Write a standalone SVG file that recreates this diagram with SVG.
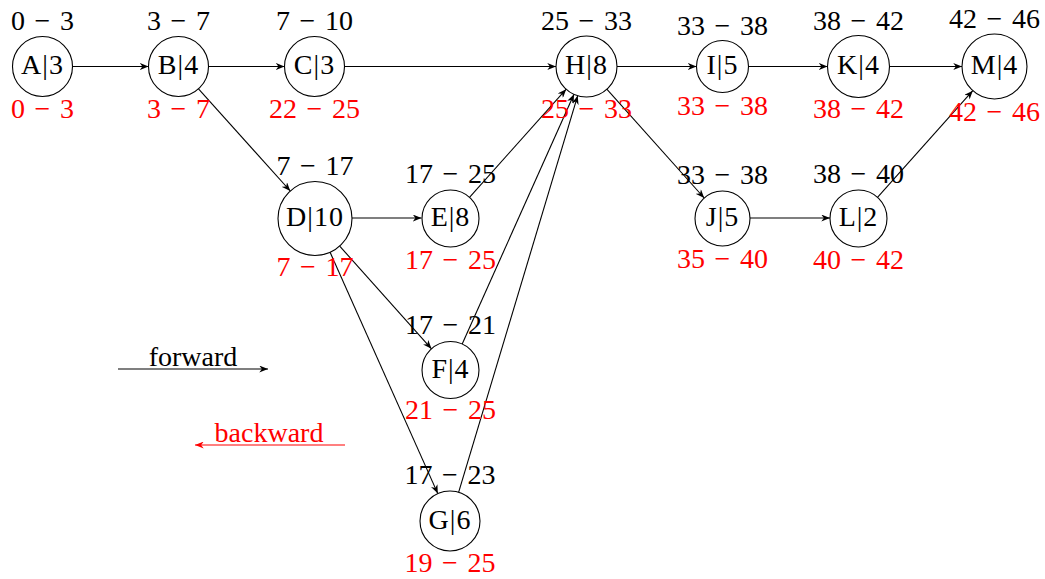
<svg xmlns="http://www.w3.org/2000/svg" width="1045" height="579" viewBox="0 0 1045 579">
<style>
text{font-family:"Liberation Serif","Times New Roman",serif;font-size:28px;text-anchor:middle}
.nt{fill:#000;letter-spacing:1px}
.es{fill:#000;word-spacing:2.5px}
.ls{fill:#ff0000;word-spacing:2.5px}
circle{fill:#fff;stroke:#000;stroke-width:1.1}
.e{stroke:#000;stroke-width:1.1;fill:none;marker-end:url(#ah)}
</style>
<defs>
<marker id="ah" markerUnits="userSpaceOnUse" viewBox="0 0 10 8" markerWidth="9" markerHeight="7" refX="10" refY="4" orient="auto"><path d="M0,0 L10,4 L0,8 L3,4 z" fill="#000"/></marker>
<marker id="ahr" markerUnits="userSpaceOnUse" viewBox="0 0 10 8" markerWidth="9" markerHeight="7" refX="10" refY="4" orient="auto"><path d="M0,0 L10,4 L0,8 L3,4 z" fill="#ff0000"/></marker>
</defs>
<g id="connectors">
<line class="e" x1="72.5" y1="66.5" x2="148.5" y2="66.5"/>
<line class="e" x1="208.5" y1="66.5" x2="284.5" y2="66.5"/>
<line class="e" x1="344.5" y1="66.5" x2="556" y2="66.5"/>
<line class="e" x1="617" y1="66.5" x2="696.5" y2="66.5"/>
<line class="e" x1="748.5" y1="66.5" x2="827.5" y2="66.5"/>
<line class="e" x1="889.5" y1="66.5" x2="962" y2="66.5"/>
<line class="e" x1="198.5" y1="88.8" x2="290.3" y2="191"/>
<line class="e" x1="352" y1="218" x2="421.5" y2="218"/>
<line class="e" x1="339.7" y1="246.1" x2="431.5" y2="348.8"/>
<line class="e" x1="330.1" y1="252.3" x2="437.8" y2="493.6"/>
<line class="e" x1="469.5" y1="197.3" x2="566.2" y2="89.2"/>
<line class="e" x1="462.2" y1="344" x2="574" y2="94.3"/>
<line class="e" x1="458.6" y1="492.3" x2="577.7" y2="95.7"/>
<line class="e" x1="606.8" y1="89.2" x2="704.2" y2="198"/>
<line class="e" x1="750" y1="218" x2="830" y2="218"/>
<line class="e" x1="877.5" y1="197.3" x2="972.8" y2="90.7"/>
</g>
<g id="A"><circle cx="42.5" cy="66.5" r="30"/><text class="nt" x="42.5" y="74">A|3</text><text class="es" x="42.5" y="29.5">0 − 3</text><text class="ls" x="42.5" y="118">0 − 3</text></g>
<g id="B"><circle cx="178.5" cy="66.5" r="30"/><text class="nt" x="178.5" y="74">B|4</text><text class="es" x="178.5" y="29.5">3 − 7</text><text class="ls" x="178.5" y="118">3 − 7</text></g>
<g id="C"><circle cx="314.5" cy="66.5" r="30"/><text class="nt" x="314.5" y="74">C|3</text><text class="es" x="314.5" y="29.5">7 − 10</text><text class="ls" x="314.5" y="118">22 − 25</text></g>
<g id="H"><circle cx="586.5" cy="66.5" r="30.5"/><text class="nt" x="586.5" y="74">H|8</text><text class="es" x="586.5" y="30">25 − 33</text><text class="ls" x="586.5" y="118">25 − 33</text></g>
<g id="I"><circle cx="722.5" cy="66.5" r="26"/><text class="nt" x="722.5" y="74">I|5</text><text class="es" x="722.5" y="35">33 − 38</text><text class="ls" x="722.5" y="115">33 − 38</text></g>
<g id="K"><circle cx="858.5" cy="66.5" r="31"/><text class="nt" x="858.5" y="74">K|4</text><text class="es" x="858.5" y="29.5">38 − 42</text><text class="ls" x="858.5" y="118">38 − 42</text></g>
<g id="M"><circle cx="994.5" cy="66.5" r="32.5"/><text class="nt" x="994.5" y="74">M|4</text><text class="es" x="994.5" y="28">42 − 46</text><text class="ls" x="994.5" y="121">42 − 46</text></g>
<g id="D"><circle cx="315" cy="218.5" r="37"/><text class="nt" x="315" y="226">D|10</text><text class="es" x="315" y="175">7 − 17</text><text class="ls" x="315" y="276">7 − 17</text></g>
<g id="E"><circle cx="450.5" cy="218.5" r="28.5"/><text class="nt" x="450.5" y="226">E|8</text><text class="es" x="450.5" y="183">17 − 25</text><text class="ls" x="450.5" y="269">17 − 25</text></g>
<g id="J"><circle cx="722.5" cy="218.5" r="27.5"/><text class="nt" x="722.5" y="226">J|5</text><text class="es" x="722.5" y="184">33 − 38</text><text class="ls" x="722.5" y="268">35 − 40</text></g>
<g id="L"><circle cx="858.5" cy="218.5" r="28.5"/><text class="nt" x="858.5" y="226">L|2</text><text class="es" x="858.5" y="183">38 − 40</text><text class="ls" x="858.5" y="269">40 − 42</text></g>
<g id="F"><circle cx="450.5" cy="370" r="28.5"/><text class="nt" x="450.5" y="377.5">F|4</text><text class="es" x="450.5" y="334">17 − 21</text><text class="ls" x="450.5" y="419">21 − 25</text></g>
<g id="G"><circle cx="450" cy="521" r="30"/><text class="nt" x="450" y="528.5">G|6</text><text class="es" x="450" y="484">17 − 23</text><text class="ls" x="450" y="572">19 − 25</text></g>
<g id="legend">
<line x1="118" y1="369" x2="268" y2="369" stroke="#000" stroke-width="1.1" marker-end="url(#ah)"/>
<text x="193" y="366" fill="#000">forward</text>
<line x1="345" y1="445" x2="195" y2="445" stroke="#ff0000" stroke-width="1.1" marker-end="url(#ahr)"/>
<text x="269" y="441.5" fill="#ff0000">backward</text>
</g>
</svg>
